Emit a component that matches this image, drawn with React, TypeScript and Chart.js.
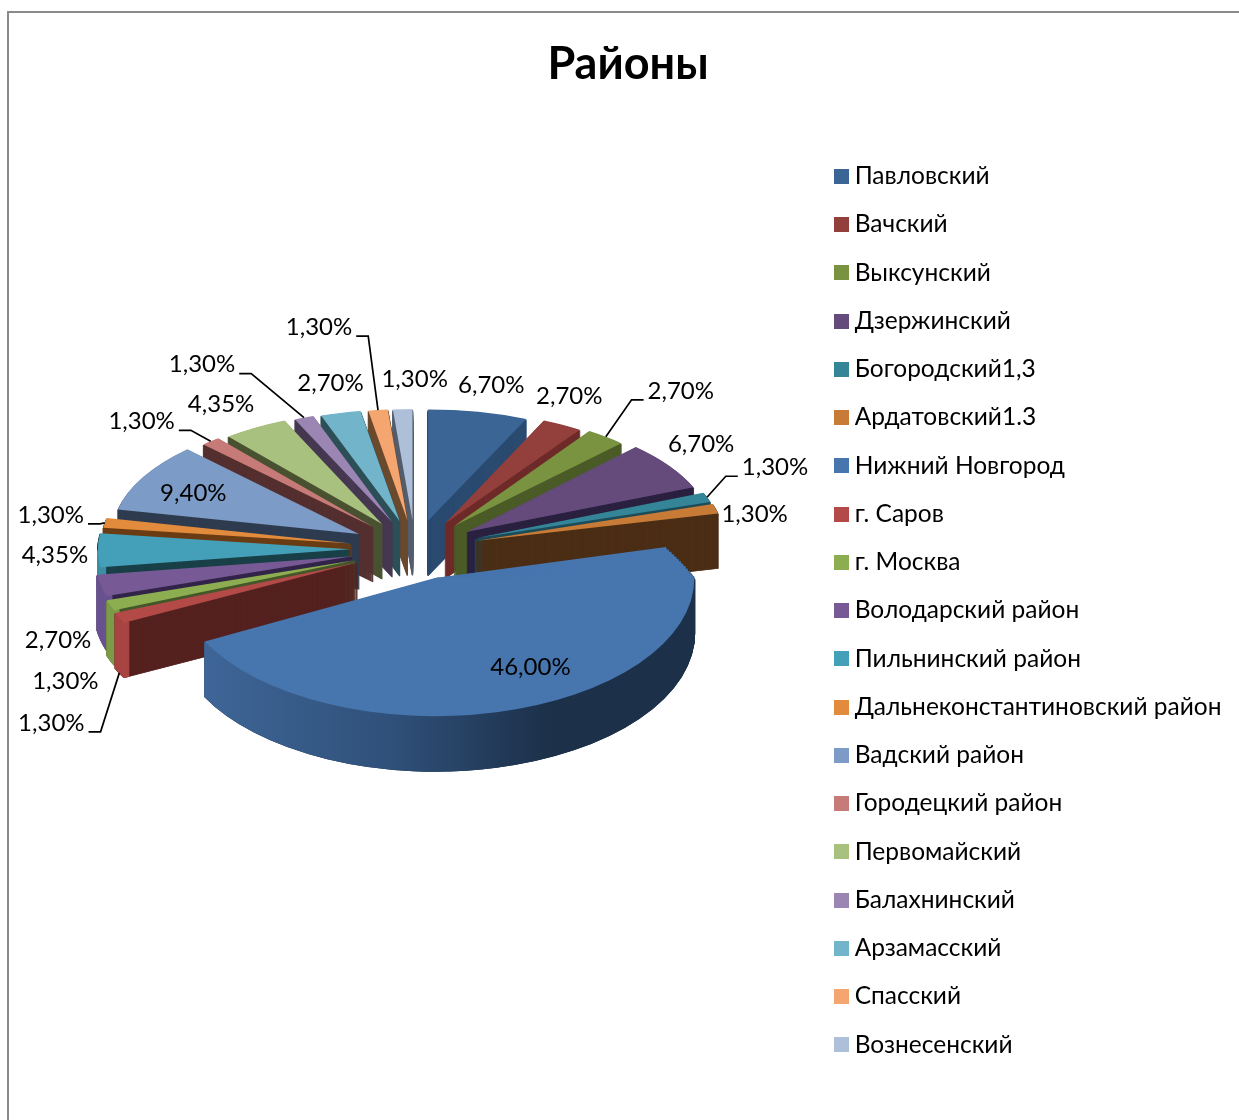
import React, { useEffect, useRef } from "react";
import { Chart, registerables } from "chart.js";

Chart.register(...registerables);

const FONT = "Lato, 'Open Sans', 'Noto Sans', sans-serif";

const titleText = "Районы";
const categories = [
  "Павловский", "Вачский", "Выксунский", "Дзержинский", "Богородский1,3", "Ардатовский1.3",
  "Нижний Новгород", "г. Саров", "г. Москва", "Володарский район", "Пильнинский район",
  "Дальнеконстантиновский район", "Вадский район", "Городецкий район", "Первомайский",
  "Балахнинский", "Арзамасский", "Спасский", "Вознесенский",
];
const shares = [6.7, 2.7, 2.7, 6.7, 1.3, 1.3, 46, 1.3, 1.3, 2.7, 4.35, 1.3, 9.4, 1.3, 4.35, 1.3, 2.7, 1.3, 1.3];

const topColors = [
  "#3a6594", "#93403c", "#7a9340", "#644b7c", "#358599", "#c87b37", "#4775ae", "#b34a47", "#8dae50",
  "#775a95", "#44a0b9", "#e38b3c", "#7c9bc6", "#c77b78", "#a9c17f", "#9a85b3", "#72b5cb", "#f5a570", "#aebfd9",
];
const wallColors = [
  "#2a4a70", "#6e2b29", "#4c5c28", "#2b2140", "#1d4d5a", "#4c2e16", "#1c3048", "#552220", "#46582a",
  "#33254a", "#1a4048", "#6b3d14", "#2f3c50", "#553030", "#4a5232", "#453850", "#2d5058", "#6b4a2e", "#555e6c",
];
const rimColors = [
  "#2a4a70", "#6e2b29", "#4c5c28", "#2b2140", "#1d4d5a", "#4c2e16", "#1c3048", "#a84543", "#7d9b48",
  "#6a5290", "#3d8ea6", "#6b3d14", "#2f3c50", "#553030", "#4a5232", "#453850", "#2d5058", "#6b4a2e", "#555e6c",
];

// label position relative to the outer middle of its slice
const labelShifts: [number, number][] = [
  [13, -27], [7, -28], [75, -46], [32, -21], [68, -30], [39, 6], [6, -41], [-68, 105], [-45, 76], [-43, 55],
  [-43, 5], [-54, -8], [50, 16], [-69, -20], [-34, -23], [-102, -53], [-10, -30], [-59, -83], [12, -30],
];
const hasLeader = [false, false, true, false, true, false, false, true, false, false, false, true, false, true, false, true, false, true, false];

const RADIUS = 250;
const DEPTH = 55;
const CX = 415 - 9; // pie centre in canvas pixels
const CY = 549 - 13;
const BIG = 6; // the largest slice: its rear corner narrows with perspective
const DEG = Math.PI / 180;

function explodeFor(a: number) {
  return 65 + 9.5 * Math.min(0, -Math.sin(a));
}

function scalesFor(a: number) {
  const c = -Math.sin(a); // 1 at the back of the pie, -1 at the front
  const s = Math.cos(a);
  return {
    sx: 1 - 0.04 * c + 0.07 * Math.max(0, -c) * Math.max(0, -s) + 0.006 * Math.max(0, -s),
    sy: 0.5 - 0.056 * c,
  };
}

function plainOptions(color: any, border: number) {
  return {
    backgroundColor: color, borderColor: color, borderWidth: border, borderRadius: 0, offset: 0, spacing: 0,
    circular: true, borderAlign: "center", borderJoinStyle: "round", borderDash: [], borderDashOffset: 0,
  };
}

function drawPiece(ctx: any, arc: any, lift: number, color: any, border: number, patch?: any, taper = 1) {
  const mid = (arc.startAngle + arc.endAngle) / 2;
  const { sx, sy } = scalesFor(mid);
  const d = explodeFor(mid);
  const savedOptions = arc.options;
  const saved = { startAngle: arc.startAngle, endAngle: arc.endAngle, circumference: arc.circumference, innerRadius: arc.innerRadius };
  ctx.save();
  ctx.translate(CX, CY + lift);
  ctx.scale(sx, sy);
  ctx.translate(Math.cos(mid) * d, Math.sin(mid) * d);
  ctx.scale(taper, 1);
  ctx.translate(-arc.x, -arc.y);
  arc.options = plainOptions(color, border);
  if (patch) Object.assign(arc, patch);
  arc.draw(ctx);
  Object.assign(arc, saved);
  arc.options = savedOptions;
  ctx.restore();
}

function drawWedge(ctx: any, arc: any, i: number, lift: number, color: any, border: number) {
  if (i !== BIG) {
    drawPiece(ctx, arc, lift, color, border);
    return;
  }
  const n = Math.ceil(-arc.startAngle / DEG);
  const step = -arc.startAngle / n;
  for (let k = 0; k < n; k++) {
    const from = arc.startAngle + k * step;
    const to = from + step + 2 * DEG;
    const taper = 1 - 0.09 * ((from + step / 2) / arc.startAngle);
    drawPiece(ctx, arc, lift, color, border, { startAngle: from, endAngle: to, circumference: to - from }, taper);
  }
  drawPiece(ctx, arc, lift, color, border, { startAngle: 0, endAngle: arc.endAngle, circumference: arc.endAngle });
}

const pie3d = {
  id: "pie3d",
  beforeDatasetDraw(chart: any) {
    const ctx = chart.ctx;
    const arcs: any[] = chart.getDatasetMeta(0).data;
    const order = arcs
      .map((arc, i) => ({ arc, i, back: -Math.sin((arc.startAngle + arc.endAngle) / 2) }))
      .sort((p, q) => q.back - p.back);

    for (const { arc, i } of order) {
      for (let j = DEPTH; j > 0; j--) drawWedge(ctx, arc, i, j, wallColors[i], 1.5);
      const from = Math.max(arc.startAngle, 0);
      const to = Math.min(arc.endAngle, Math.PI);
      if (to > from) {
        let rim: any = rimColors[i];
        if (i === BIG) {
          rim = ctx.createLinearGradient(arc.x - RADIUS, 0, arc.x + RADIUS, 0);
          rim.addColorStop(0, "#41699c");
          rim.addColorStop(0.42, "#2f5079");
          rim.addColorStop(0.72, "#1c3049");
          rim.addColorStop(1, "#1c3049");
        }
        const patch = { startAngle: from, endAngle: to, circumference: to - from, innerRadius: RADIUS - 5 };
        for (let j = DEPTH; j > 0; j--) drawPiece(ctx, arc, j, rim, 1.5, patch);
      }
      drawWedge(ctx, arc, i, 0, topColors[i], 0);
    }

    ctx.save();
    ctx.font = "24px " + FONT;
    ctx.fillStyle = "#000";
    ctx.strokeStyle = "#000";
    ctx.lineWidth = 1.7;
    ctx.textAlign = "center";
    ctx.textBaseline = "middle";
    arcs.forEach((arc, i) => {
      const mid = (arc.startAngle + arc.endAngle) / 2;
      const { sx, sy } = scalesFor(mid);
      const reach = explodeFor(mid) + RADIUS;
      const ax = CX + Math.cos(mid) * reach * sx;
      const ay = CY + Math.sin(mid) * reach * sy;
      const tx = ax + labelShifts[i][0];
      const ty = ay + labelShifts[i][1];
      const text = shares[i].toFixed(2).replace(".", ",") + "%";
      ctx.fillText(text, tx, ty);
      if (hasLeader[i]) {
        const side = tx < ax ? 1 : -1;
        const x0 = tx + side * (ctx.measureText(text).width / 2 + 4);
        const ly = ty + 9;
        ctx.beginPath();
        ctx.moveTo(x0, ly);
        ctx.lineTo(x0 + side * 12, ly);
        ctx.lineTo(ax, ay + (Math.sin(mid) > 0.3 ? DEPTH : 0));
        ctx.stroke();
      }
    });
    ctx.restore();
    return false;
  },
};

function swatch(color: string) {
  const c = document.createElement("canvas");
  c.width = 15;
  c.height = 15;
  const g = c.getContext("2d")!;
  g.fillStyle = color;
  g.fillRect(0, 0, 15, 15);
  return c;
}

export default function App() {
  const ref = useRef<HTMLCanvasElement>(null);
  useEffect(() => {
    const chart = new Chart(ref.current!, {
      type: "pie",
      data: {
        labels: categories,
        datasets: [{ data: shares, backgroundColor: topColors, borderWidth: 0 }],
      },
      options: {
        responsive: false,
        animation: false,
        radius: RADIUS,
        layout: { padding: { left: 15.5, right: 7.5, top: 0, bottom: 0 } },
        plugins: {
          title: {
            display: true,
            text: titleText,
            color: "#000",
            font: { family: FONT, size: 45, weight: "bold" },
            padding: { top: 24, bottom: 10 },
          },
          tooltip: { enabled: false },
          legend: {
            position: "right",
            fullSize: false,
            labels: {
              color: "#000",
              font: { family: FONT, size: 24.5 },
              padding: 23.75,
              usePointStyle: true,
              pointStyleWidth: 2.5,
              boxHeight: 15,
              generateLabels: (c: any) =>
                (Chart as any).overrides.pie.plugins.legend.labels
                  .generateLabels(c)
                  .map((it: any, i: number) => ({ ...it, pointStyle: swatch(topColors[i]) })),
            },
          },
        },
      } as any,
      plugins: [pie3d as any],
    });
    return () => chart.destroy();
  }, []);
  return (
    <div
      style={{
        position: "absolute", left: 7, top: 11, width: 1232, height: 1109, boxSizing: "border-box",
        borderLeft: "2px solid #8a8a8a", borderTop: "2px solid #8a8a8a", overflow: "hidden", background: "#fff",
      }}
    >
      <canvas ref={ref} width={1230} height={1107} style={{ display: "block" }} />
    </div>
  );
}
